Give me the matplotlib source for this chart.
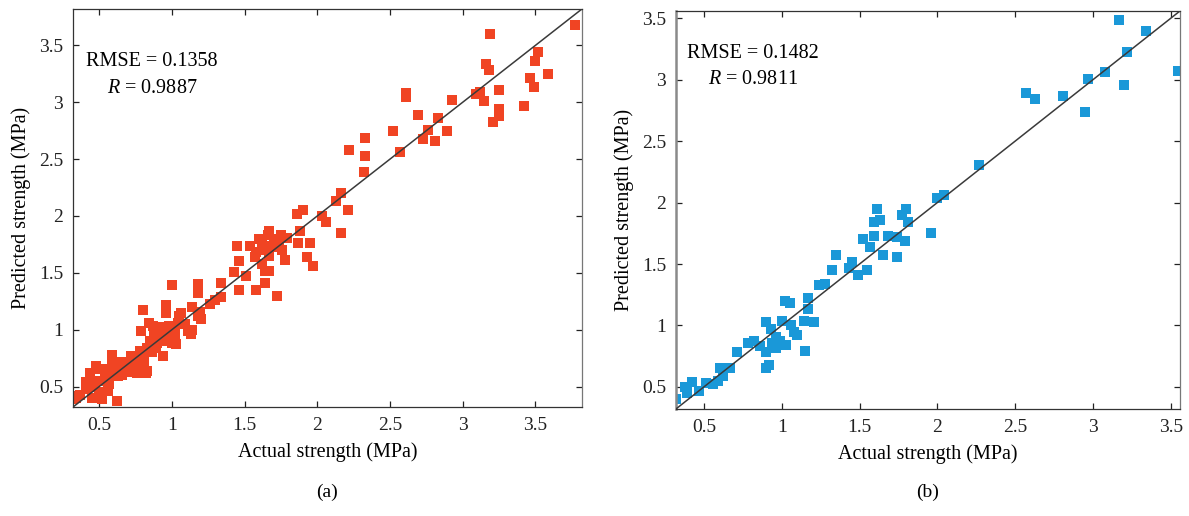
import matplotlib
matplotlib.use("Agg")
import matplotlib.pyplot as plt
from matplotlib.ticker import FuncFormatter

plt.rcParams['font.family'] = ['Liberation Serif', 'DejaVu Serif']
plt.rcParams['mathtext.fontset'] = 'custom'
plt.rcParams['mathtext.rm'] = 'Liberation Serif'
plt.rcParams['mathtext.it'] = 'Liberation Serif:italic'

# (a) actual vs predicted strength, MPa
actual_a = [
    0.31, 0.34, 0.34, 0.37, 0.41, 0.41, 0.44, 0.44, 0.45, 0.45, 0.48, 0.49, 0.50, 0.50,
    0.52, 0.53, 0.55, 0.56, 0.57, 0.59, 0.59, 0.59, 0.60, 0.61, 0.62, 0.63, 0.66, 0.66,
    0.68, 0.70, 0.72, 0.72, 0.73, 0.74, 0.76, 0.76, 0.78, 0.78, 0.79, 0.80, 0.81, 0.81,
    0.82, 0.83, 0.83, 0.84, 0.85, 0.87, 0.88, 0.89, 0.89, 0.90, 0.91, 0.91, 0.92, 0.94,
    0.95, 0.95, 0.96, 0.96, 0.98, 1.00, 1.00, 1.00, 1.02, 1.02, 1.03, 1.04, 1.05, 1.06,
    1.11, 1.13, 1.14, 1.14, 1.18, 1.18, 1.18, 1.19, 1.20, 1.26, 1.30, 1.34, 1.34,
    1.43, 1.45, 1.46, 1.46, 1.51, 1.54, 1.57, 1.58, 1.58, 1.60, 1.62, 1.64, 1.64, 1.64,
    1.67, 1.67, 1.67, 1.68, 1.72, 1.72, 1.74, 1.75, 1.78, 1.79, 1.86, 1.87, 1.88, 1.90,
    1.93, 1.95, 1.97, 2.03, 2.06, 2.13, 2.16, 2.16, 2.21, 2.22, 2.33, 2.33, 2.32, 2.52,
    2.57, 2.61, 2.61, 2.69, 2.73, 2.76, 2.81, 2.83, 2.89, 2.93, 3.09, 3.12, 3.15, 3.16,
    3.18, 3.19, 3.21, 3.25, 3.25, 3.25, 3.42, 3.46, 3.49, 3.50, 3.52, 3.59, 3.77,
    0.47, 0.54, 0.58, 0.64, 0.69, 0.75, 0.86, 0.93, 1.09, 1.62, 1.70, 1.76, 1.66,
]
predicted_a = [
    0.39, 0.42, 0.40, 0.43, 0.48, 0.54, 0.62, 0.56, 0.40, 0.50, 0.68, 0.65, 0.45, 0.55,
    0.39, 0.65, 0.62, 0.46, 0.52, 0.77, 0.78, 0.68, 0.59, 0.68, 0.37, 0.59, 0.60, 0.72,
    0.68, 0.63, 0.77, 0.67, 0.74, 0.71, 0.72, 0.62, 0.65, 0.81, 0.99, 1.17, 0.77, 0.71,
    0.62, 0.64, 0.84, 1.06, 0.90, 1.03, 0.96, 0.85, 0.84, 0.88, 0.94, 1.02, 1.00, 0.77,
    0.91, 0.98, 1.22, 1.15, 1.03, 1.39, 0.95, 0.88, 1.00, 0.94, 0.87, 1.06, 1.12, 1.15,
    0.99, 0.96, 1.00, 1.20, 1.40, 1.32, 1.12, 1.16, 1.09, 1.23, 1.26, 1.29, 1.41,
    1.51, 1.74, 1.35, 1.60, 1.47, 1.74, 1.64, 1.35, 1.68, 1.80, 1.58, 1.41, 1.52, 1.70,
    1.87, 1.52, 1.65, 1.74, 1.30, 1.73, 1.79, 1.83, 1.61, 1.81, 2.02, 1.76, 1.87, 2.05,
    1.64, 1.76, 1.56, 2.00, 1.95, 2.13, 2.20, 1.85, 2.05, 2.58, 2.69, 2.53, 2.39, 2.75,
    2.56, 3.05, 3.08, 2.89, 2.68, 2.76, 2.66, 2.86, 2.75, 3.02, 3.07, 3.09, 3.01, 3.34,
    3.28, 3.60, 2.83, 3.11, 2.94, 2.88, 2.97, 3.21, 3.13, 3.36, 3.44, 3.25, 3.68,
    0.51, 0.57, 0.63, 0.66, 0.70, 0.76, 0.80, 0.90, 1.05, 1.76, 1.80, 1.70, 1.83,
]

# (b) actual vs predicted strength, MPa
actual_b = [
    0.32, 0.38, 0.39, 0.39, 0.42, 0.47, 0.51, 0.56, 0.59, 0.60, 0.62, 0.67, 0.71, 0.78,
    0.82, 0.86, 0.90, 0.90, 0.90, 0.92, 0.93, 0.94, 0.96, 0.96, 0.99, 1.00, 1.02, 1.03,
    1.05, 1.06, 1.08, 1.10, 1.14, 1.15, 1.17, 1.17, 1.21, 1.24, 1.28, 1.32, 1.35, 1.43,
    1.45, 1.49, 1.52, 1.55, 1.57, 1.59, 1.59, 1.61, 1.63, 1.65, 1.68, 1.74, 1.74, 1.77,
    1.79, 1.80, 1.81, 1.96, 2.00, 2.04, 2.27, 2.57, 2.63, 2.81, 2.95, 2.97, 3.08, 3.17,
    3.20, 3.22, 3.34, 3.55,
]
predicted_b = [
    0.40, 0.50, 0.49, 0.45, 0.54, 0.47, 0.53, 0.52, 0.55, 0.65, 0.59, 0.65, 0.78, 0.86,
    0.87, 0.83, 0.78, 0.65, 1.03, 0.68, 0.97, 0.86, 0.82, 0.91, 0.87, 1.04, 1.20, 0.84,
    1.18, 1.00, 0.95, 0.92, 1.04, 0.79, 1.22, 1.13, 1.03, 1.33, 1.34, 1.45, 1.57, 1.47,
    1.52, 1.41, 1.70, 1.45, 1.64, 1.73, 1.84, 1.95, 1.86, 1.57, 1.73, 1.72, 1.56, 1.90,
    1.69, 1.95, 1.84, 1.75, 2.04, 2.06, 2.31, 2.89, 2.84, 2.87, 2.74, 3.01, 3.06, 3.49,
    2.96, 3.23, 3.40, 3.07,
]

panels = [
    (actual_a, predicted_a, '#f04423', (0.32, 3.82), [0.5, 1, 1.5, 2, 2.5, 3, 3.5],
     [0.5, 1, 1.5, 2, 2.5, 3, 3.5], 'RMSE = 0.1358', '$R$ = 0.9887', '(a)',
     [0.0614, 0.2112, 0.428, 0.7713], (0.025, 0.867), (0.067, 0.801)),
    (actual_b, predicted_b, '#1a98d8', (0.32, 3.56), [0.5, 1, 1.5, 2, 2.5, 3, 3.5],
     [0.5, 1, 1.5, 2, 2.5, 3, 3.5], 'RMSE = 0.1482', '$R$ = 0.9811', '(b)',
     [0.5685, 0.2074, 0.4239, 0.7713], (0.022, 0.892), (0.064, 0.827)),
]

fig = plt.figure(figsize=(11.89, 5.16), dpi=100)
fmt = FuncFormatter(lambda v, p: '%g' % v)

for i, (xs, ys, col, lim, xt, yt, t1, t2, cap, pos, p1, p2) in enumerate(panels):
    ax = fig.add_axes(pos)
    ax.plot(xs, ys, 's', color=col, ms=7.8, mec=col, mew=0, zorder=2)
    ax.plot([lim[0], lim[1]], [lim[0], lim[1]], color='#3a3a3a', lw=1.1, zorder=3)
    ax.set_xlim(lim)
    ax.set_ylim(lim)
    ax.set_xticks(xt)
    ax.set_yticks(yt)
    ax.xaxis.set_major_formatter(fmt)
    ax.yaxis.set_major_formatter(fmt)
    ax.tick_params(direction='in', top=True, right=True, length=4.5, width=0.9,
                   labelsize=14, pad=7, colors='#222222')
    for s in ax.spines.values():
        s.set_color('#333333')
        s.set_linewidth(0.9)
    ax.spines['right'].set_color('#777777')
    if i == 1:
        ax.spines['left'].set_color('#8a8a8a')
        ax.spines['left'].set_linewidth(1.8)
    ax.set_xlabel('Actual strength (MPa)', fontsize=14.5, labelpad=6)
    ax.set_ylabel('Predicted strength (MPa)', fontsize=14.5, labelpad=6)
    ax.text(p1[0], p1[1], t1, transform=ax.transAxes, fontsize=14.5, va='center', ha='left')
    ax.text(p2[0], p2[1], t2, transform=ax.transAxes, fontsize=14.5, va='center', ha='left')
    fig.text(pos[0] + pos[2] / 2, 0.046, cap, fontsize=14, ha='center', va='center')

fig.savefig('out.png', dpi=100)
